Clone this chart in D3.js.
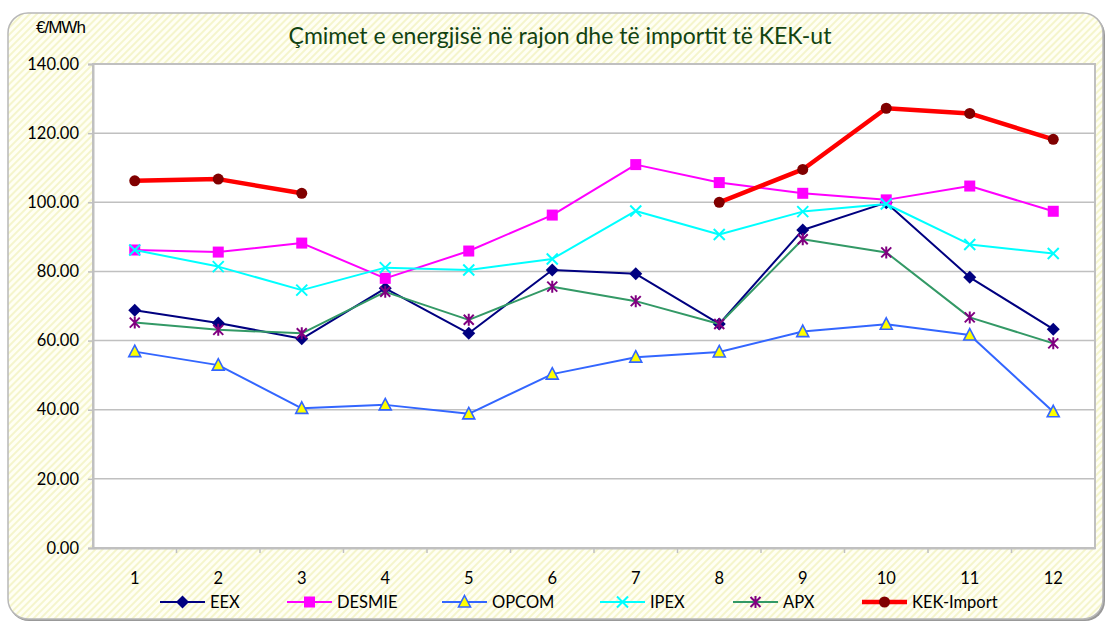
<!DOCTYPE html>
<html><head><meta charset="utf-8">
<script src="https://cdn.jsdelivr.net/npm/d3@7"></script>
<style>body{margin:0;background:#fff;}svg{display:block;}</style>
</head><body>
<svg id="c" width="1106" height="623"></svg>
<script>
const months = ["1","2","3","4","5","6","7","8","9","10","11","12"];
const yTicks = [0,20,40,60,80,100,120,140];
const EEX    = [68.8,65.1,60.5,75.1,62.1,80.4,79.3,64.8,92.0,99.9,78.3,63.3];
const DESMIE = [86.2,85.6,88.2,78.0,85.9,96.3,110.9,105.7,102.6,100.7,104.7,97.4];
const OPCOM  = [56.8,52.9,40.4,41.4,38.8,50.3,55.2,56.7,62.6,64.7,61.6,39.4];
const IPEX   = [86.2,81.4,74.6,81.1,80.4,83.6,97.5,90.7,97.3,99.5,87.8,85.2];
const APX    = [65.2,63.1,62.1,74.1,66.0,75.6,71.4,64.8,89.3,85.5,66.7,59.2];
const KEK    = [106.2,106.7,102.6,null,null,null,null,100.0,109.5,127.2,125.7,118.2];
const seriesNames = ["EEX","DESMIE","OPCOM","IPEX","APX","KEK-Import"];

const series = [
  {name:"EEX", values:EEX, line:"#000080", w:2, marker:"diamond", fill:"#000080", stroke:"#000080"},
  {name:"DESMIE", values:DESMIE, line:"#ff00ff", w:2, marker:"square", fill:"#ff00ff", stroke:"#ff00ff"},
  {name:"OPCOM", values:OPCOM, line:"#3366ff", w:2, marker:"triangle", fill:"#ffff00", stroke:"#3366ff"},
  {name:"IPEX", values:IPEX, line:"#00ffff", w:2, marker:"x", fill:"none", stroke:"#00ffff"},
  {name:"APX", values:APX, line:"#339966", w:2, marker:"star", fill:"none", stroke:"#800080"},
  {name:"KEK-Import", values:KEK, line:"#ff0000", w:4.5, marker:"circle", fill:"#800000", stroke:"#800000"}
];

const svg = d3.select("#c");
const defs = svg.append("defs");
const pat = defs.append("pattern").attr("id","hatch").attr("patternUnits","userSpaceOnUse")
  .attr("width",5).attr("height",5).attr("patternTransform","rotate(45)");
pat.append("rect").attr("width",5).attr("height",5).attr("fill","#fffff4");
pat.append("rect").attr("width",2).attr("height",5).attr("fill","#f5f5cc");

// outer chart area
svg.append("rect").attr("x",9).attr("y",15).attr("width",1096).attr("height",606)
  .attr("rx",20).attr("fill","#555").attr("opacity",0.6);
svg.append("rect").attr("x",8).attr("y",13).attr("width",1095).attr("height",606)
  .attr("rx",20).attr("fill","url(#hatch)").attr("stroke","#b8b8b8").attr("stroke-width",1.5);

const L=93, R=1095, T=64, B=548;
const x = d3.scaleBand().domain(months).range([L,R]);
const y = d3.scaleLinear().domain([0,140]).range([B,T]);
const cx = d => x(d) + x.bandwidth()/2;

svg.append("rect").attr("x",L).attr("y",T).attr("width",R-L).attr("height",B-T)
  .attr("fill","#fff").attr("stroke","#c0c0c0").attr("stroke-width",2);

// gridlines
svg.append("g").selectAll("line").data(yTicks.slice(1,-1)).join("line")
  .attr("x1",L).attr("x2",R).attr("y1",d=>y(d)).attr("y2",d=>y(d))
  .attr("stroke","#c0c0c0").attr("stroke-width",1.5);

const font = "Lato, 'Open Sans', sans-serif";
const fs = 16.5;
// y axis
const ya = svg.append("g").attr("transform",`translate(${L},0)`)
  .call(d3.axisLeft(y).tickValues(yTicks).tickFormat(d3.format(".2f")).tickSize(5).tickPadding(9));
ya.select(".domain").attr("stroke","#c0c0c0").attr("stroke-width",2);
ya.selectAll(".tick line").attr("stroke","#c0c0c0").attr("stroke-width",1.5);
ya.selectAll("text").attr("font-family",font).attr("font-size",fs).attr("fill","#000");

// x axis
const xa = svg.append("g").attr("transform",`translate(0,${B})`)
  .call(d3.axisBottom(x).tickSize(0).tickPadding(24));
xa.select(".domain").attr("stroke","#c0c0c0").attr("stroke-width",2);
xa.selectAll("text").attr("font-family",font).attr("font-size",fs).attr("fill","#000");
xa.append("g").selectAll("line").data(months.slice(1)).join("line")
  .attr("x1",d=>x(d)).attr("x2",d=>x(d)).attr("y1",0).attr("y2",5)
  .attr("stroke","#c0c0c0").attr("stroke-width",1.5);

function drawMarker(g, type, px, py, s){
  const m = s.marker;
  if(m==="diamond"){
    g.append("path").attr("d",`M${px},${py-6.5}L${px+6.5},${py}L${px},${py+6.5}L${px-6.5},${py}Z`).attr("fill",s.fill);
  } else if(m==="square"){
    g.append("rect").attr("x",px-5.5).attr("y",py-5.5).attr("width",11).attr("height",11).attr("fill",s.fill);
  } else if(m==="triangle"){
    g.append("path").attr("d",`M${px},${py-6.5}L${px+6},${py+5}L${px-6},${py+5}Z`).attr("fill",s.fill).attr("stroke",s.stroke).attr("stroke-width",1.6);
  } else if(m==="x"){
    g.append("path").attr("d",`M${px-5.5},${py-5.5}L${px+5.5},${py+5.5}M${px+5.5},${py-5.5}L${px-5.5},${py+5.5}`).attr("stroke",s.stroke).attr("stroke-width",2);
  } else if(m==="star"){
    g.append("path").attr("d",`M${px-5},${py-5}L${px+5},${py+5}M${px+5},${py-5}L${px-5},${py+5}M${px},${py-6}L${px},${py+6}`).attr("stroke",s.stroke).attr("stroke-width",2);
  } else if(m==="circle"){
    g.append("circle").attr("cx",px).attr("cy",py).attr("r",5.5).attr("fill",s.fill);
  }
}

const line = d3.line().defined(d=>d.v!=null).x(d=>cx(d.m)).y(d=>y(d.v));
series.forEach(s=>{
  const data = months.map((m,i)=>({m, v:s.values[i]}));
  const g = svg.append("g");
  g.append("path").datum(data).attr("d",line).attr("fill","none")
    .attr("stroke",s.line).attr("stroke-width",s.w).attr("stroke-linejoin","round");
  data.filter(d=>d.v!=null).forEach(d=>drawMarker(g, s.marker, cx(d.m), y(d.v), s));
});

// legend
const legX = [160, 287, 442, 600, 733, 862];
const legY = 602;
series.forEach((s,i)=>{
  const g = svg.append("g");
  const x0 = legX[i];
  g.append("line").attr("x1",x0).attr("x2",x0+45).attr("y1",legY).attr("y2",legY)
    .attr("stroke",s.line).attr("stroke-width",s.w===2?2:4.5);
  drawMarker(g, s.marker, x0+22.5, legY, s);
  g.append("text").attr("x",x0+50).attr("y",legY+6).text(seriesNames[i])
    .attr("font-family",font).attr("font-size",fs).attr("fill","#000");
});

// title & unit
svg.append("text").attr("x",560).attr("y",44).attr("text-anchor","middle")
  .attr("font-family",font).attr("font-size",23).attr("fill","#124312")
  .text("Çmimet e energjisë në rajon dhe të importit të KEK-ut");
svg.append("text").attr("x",36).attr("y",33).attr("font-family","'Liberation Sans', Arial, sans-serif")
  .attr("font-size",17).attr("letter-spacing",-1).attr("fill","#000").text("€/MWh");
</script>
</body></html>
